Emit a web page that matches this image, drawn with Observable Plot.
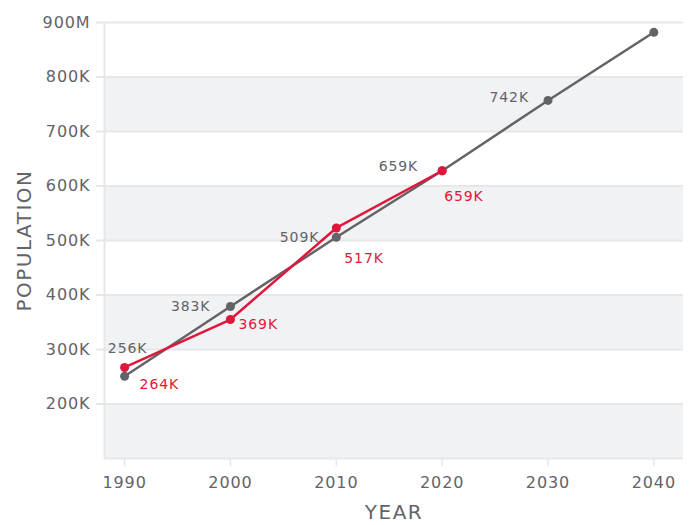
<!DOCTYPE html>
<html>
<head>
<meta charset="utf-8">
<script src="https://cdn.jsdelivr.net/npm/d3@7"></script>
<script src="https://cdn.jsdelivr.net/npm/@observablehq/plot@0.6"></script>
<style>
  html, body { margin: 0; padding: 0; background: #fff; }
  #chart { width: 689px; height: 525px; }
  svg { font-family: "DejaVu Sans", sans-serif; }
  svg text { letter-spacing: 0.9px; }
</style>
</head>
<body>
<div id="chart"></div>
<script>
// ---- data ----
const years = [1990, 2000, 2010, 2020, 2030, 2040];
const projected = [251, 379, 506, 628, 757, 882];   // gray series (thousands)
const actualYears = [1990, 2000, 2010, 2020];
const actual = [267, 355, 523, 628];                 // red series (thousands)
const projectedLabels = ["256K", "383K", "509K", "659K", "742K", ""];
const actualLabels = ["264K", "369K", "517K", "659K"];
const yTicks = [200, 300, 400, 500, 600, 700, 800, 900];
const yTickLabels = ["200K", "300K", "400K", "500K", "600K", "700K", "800K", "900M"];
const xTicks = [1990, 2000, 2010, 2020, 2030, 2040];
const bandStarts = [100, 300, 500, 700];

// ---- label placement (layout only) ----
const grayAnchor = ["middle", "end", "end", "end", "end", "end"];
const grayDx = [3, -20, -17, -24, -19, 0];
const grayDy = [-28, 0, 0, -4, -3, 0];
const redDx = [15, 8, 8, 2];
const redDy = [17, 5, 31, 26];

const GRAY = "#636368";
const RED = "#e0173b";
const GRID = "#e6e7ea";
const BAND = "#f1f2f4";

const grayData = years.map((y, i) => ({year: y, value: projected[i], label: projectedLabels[i]}));
const redData = actualYears.map((y, i) => ({year: y, value: actual[i], label: actualLabels[i]}));

const labelMarks = [];
grayData.forEach((d, i) => {
  if (!d.label) return;
  labelMarks.push(Plot.text([d], {x: "year", y: "value", text: "label", fill: GRAY,
    fontSize: 14, textAnchor: grayAnchor[i], dx: grayDx[i], dy: grayDy[i]}));
});
redData.forEach((d, i) => {
  labelMarks.push(Plot.text([d], {x: "year", y: "value", text: "label", fill: RED,
    fontSize: 14, textAnchor: "start", dx: redDx[i], dy: redDy[i]}));
});

const tickLabelMap = new Map(yTicks.map((t, i) => [t, yTickLabels[i]]));

const chart = Plot.plot({
  width: 689,
  height: 525,
  marginTop: 22,
  marginBottom: 67,
  marginLeft: 104,
  marginRight: 6,
  x: {domain: [1988.1, 2042.8]},
  y: {domain: [100, 900]},
  marks: [
    Plot.rect(bandStarts, {y1: d => d, y2: d => d + 100, fill: BAND}),
    Plot.ruleY(yTicks, {stroke: GRID, strokeWidth: 2}),
    Plot.ruleY([100], {stroke: GRID, strokeWidth: 2}),
    Plot.ruleX([1988.1], {stroke: GRID, strokeWidth: 2}),
    Plot.axisY({ticks: yTicks, tickSize: 8, tickPadding: 6, stroke: GRID, strokeWidth: 2,
      tickFormat: t => tickLabelMap.get(t), fontSize: 16, fill: GRAY, label: null}),
    Plot.axisX({ticks: xTicks, tickSize: 8, tickPadding: 10, stroke: GRID, strokeWidth: 1.5,
      tickFormat: d => String(d), fontSize: 16, fill: GRAY, label: null}),
    Plot.line(grayData, {x: "year", y: "value", stroke: GRAY, strokeWidth: 2.5}),
    Plot.dot(grayData, {x: "year", y: "value", fill: GRAY, r: 4.5}),
    Plot.line(redData, {x: "year", y: "value", stroke: RED, strokeWidth: 2.5}),
    Plot.dot(redData, {x: "year", y: "value", fill: RED, r: 4.5}),
    ...labelMarks,
    Plot.text(["YEAR"], {frameAnchor: "bottom", textAnchor: "middle", lineAnchor: "middle", dy: 54,
      fontSize: 20, fill: GRAY}),
    Plot.text(["POPULATION"], {frameAnchor: "left", textAnchor: "middle", lineAnchor: "middle", dx: -80,
      rotate: -90, fontSize: 20, fill: GRAY})
  ]
});
document.getElementById("chart").appendChild(chart);
d3.select(chart).selectAll("text").filter(function() {
  const t = this.textContent; return t === "YEAR" || t === "POPULATION";
}).style("letter-spacing", "1.5px");
</script>
</body>
</html>
